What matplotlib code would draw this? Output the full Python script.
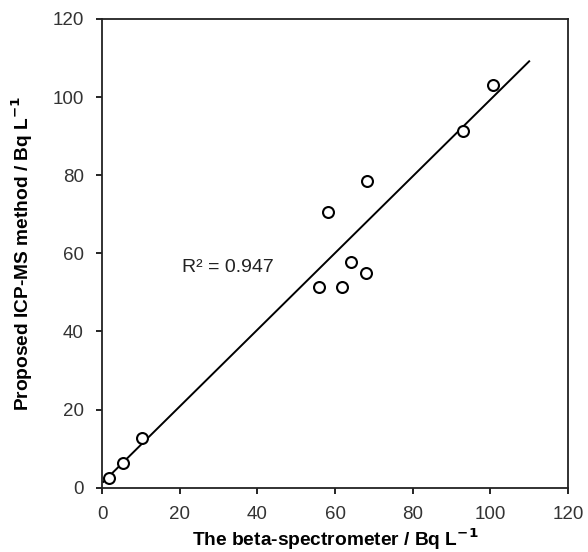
import matplotlib
matplotlib.use("Agg")
import matplotlib.pyplot as plt
import numpy as np

plt.rcParams['font.family'] = ['Liberation Sans', 'DejaVu Sans']

# Data
beta_x = [1.8, 5.5, 10.4, 56.0, 58.3, 61.7, 64.1, 68.0, 68.3, 93.0, 100.6]
icpms_y = [2.6, 6.4, 12.6, 51.4, 70.5, 51.4, 57.8, 54.9, 78.5, 91.4, 103.0]

# Linear trend line (as shown in the reference)
trend_slope = 0.982
trend_intercept = 1.15
trend_range = [0.35, 110.0]
r2_text = "R² = 0.947"

ticks = [0, 20, 40, 60, 80, 100, 120]

fig = plt.figure(figsize=(5.88, 5.52), dpi=100)
ax = fig.add_axes([0.1735, 0.1165, 0.966 - 0.1735, 0.9656 - 0.1165])

tx = np.array(trend_range)
ax.plot(tx, trend_slope * tx + trend_intercept, color='black', lw=1.4, zorder=2)
ax.scatter(beta_x, icpms_y, s=62, facecolors='white', edgecolors='black',
           linewidths=1.5, zorder=3)

ax.text(20.5, 56.4, r2_text, fontsize=14, ha='left', va='center', color='#222222')

ax.set_xlim(0, 120)
ax.set_ylim(0, 120)
ax.set_xticks(ticks)
ax.set_yticks(ticks)
ax.tick_params(direction='out', length=4, width=1.2, labelsize=13.5, pad=9,
               top=False, right=False, colors='black', labelcolor='#333333')
for s in ax.spines.values():
    s.set_linewidth(1.3)
    s.set_color('#222222')

ax.set_xlabel("The beta-spectrometer / Bq L$^{\\mathbf{-1}}$", fontsize=13.8,
              fontweight='bold', labelpad=3)
ax.set_ylabel("Proposed ICP-MS method / Bq L$^{\\mathbf{-1}}$", fontsize=13.8,
              fontweight='bold', labelpad=13)

fig.savefig("out.png", dpi=100)
